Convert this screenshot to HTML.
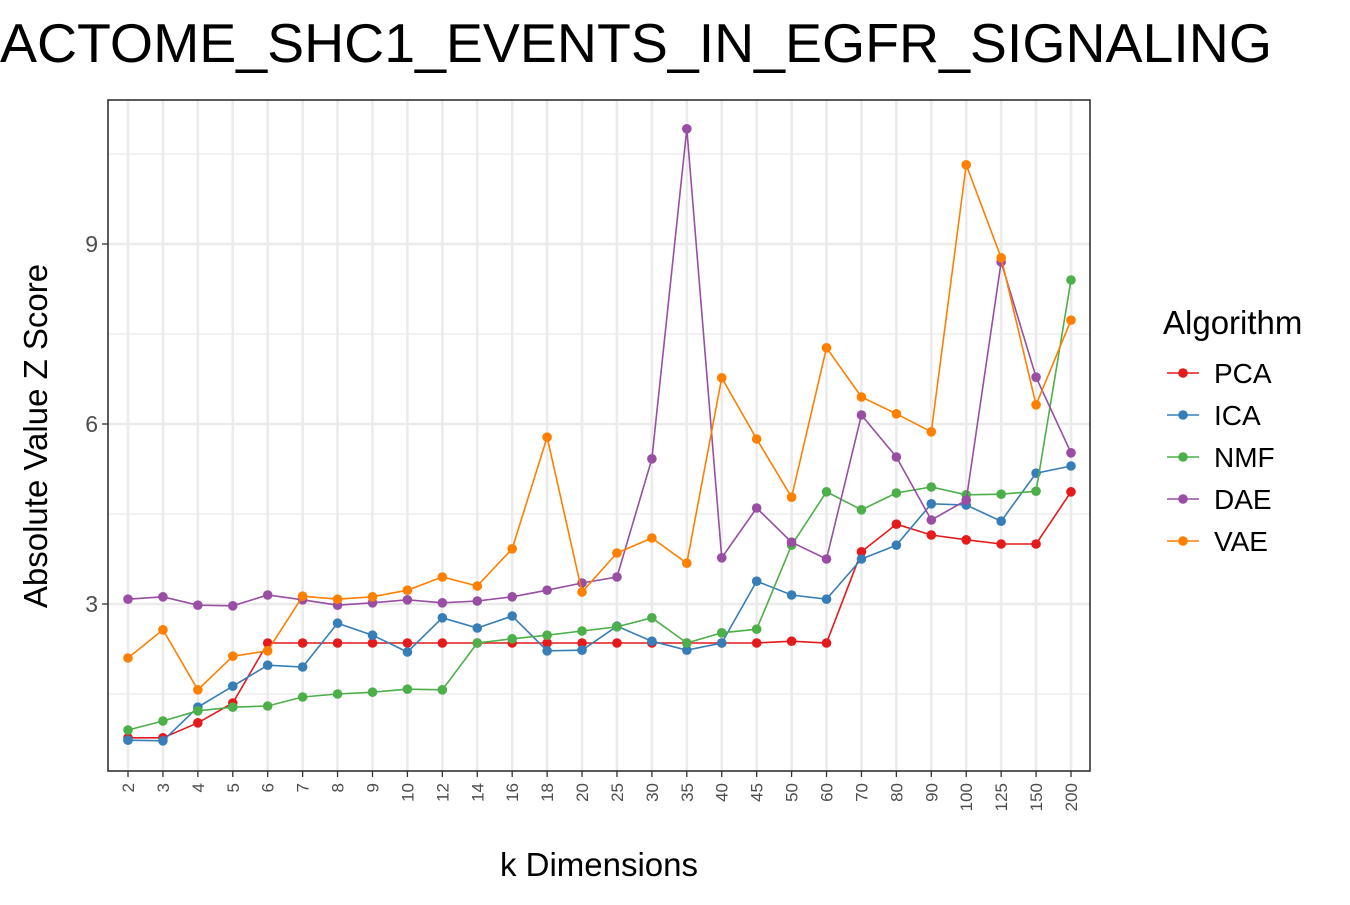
<!DOCTYPE html>
<html><head><meta charset="utf-8"><style>
body{margin:0;background:#fff;font-family:"Liberation Sans",Arial,sans-serif;}
</style></head><body>
<svg width="1350" height="900" xmlns="http://www.w3.org/2000/svg" font-family="Liberation Sans, Arial, sans-serif">
<text x="0" y="62" font-size="55" fill="#000" textLength="1272" lengthAdjust="spacingAndGlyphs">ACTOME_SHC1_EVENTS_IN_EGFR_SIGNALING</text>
<g id="grid"></g>
<g id="marks"></g>
<rect x="108" y="100" width="982" height="671" fill="none" stroke="#333" stroke-width="1.6"/>
<g id="axes"></g>
<text transform="translate(47,436) rotate(-90)" text-anchor="middle" font-size="33" fill="#000">Absolute Value Z Score</text>
<text x="599" y="876" text-anchor="middle" font-size="33" fill="#000">k Dimensions</text>
<g id="legend">
<text x="1163" y="334" font-size="33" fill="#000">Algorithm</text>
</g>
</svg>
<script>
const categories=["2","3","4","5","6","7","8","9","10","12","14","16","18","20","25","30","35","40","45","50","60","70","80","90","100","125","150","200"];
const yTicks=[3,6,9];
const seriesNames=["PCA","ICA","NMF","DAE","VAE"];
const seriesColors=["#e41a1c","#377eb8","#4daf4a","#984ea3","#ff7f00"];
const pca=[0.77,0.77,1.02,1.35,2.35,2.35,2.35,2.35,2.35,2.35,2.35,2.35,2.35,2.35,2.35,2.35,2.35,2.35,2.35,2.38,2.35,3.87,4.33,4.15,4.07,4.0,4.0,4.87];
const ica=[0.73,0.72,1.28,1.63,1.98,1.95,2.68,2.48,2.2,2.77,2.6,2.8,2.22,2.23,2.63,2.38,2.23,2.35,3.38,3.15,3.08,3.75,3.98,4.67,4.65,4.38,5.18,5.3];
const nmf=[0.9,1.05,1.22,1.28,1.3,1.45,1.5,1.53,1.58,1.57,2.35,2.42,2.48,2.55,2.62,2.77,2.35,2.52,2.58,3.98,4.87,4.57,4.85,4.95,4.82,4.83,4.88,8.4];
const dae=[3.08,3.12,2.98,2.97,3.15,3.07,2.98,3.02,3.07,3.02,3.05,3.12,3.23,3.35,3.45,5.42,10.92,3.77,4.6,4.03,3.75,6.15,5.45,4.4,4.73,8.7,6.78,5.52];
const vae=[2.1,2.57,1.57,2.13,2.22,3.13,3.08,3.12,3.23,3.45,3.3,3.92,5.78,3.2,3.85,4.1,3.68,6.77,5.75,4.78,7.27,6.45,6.17,5.87,10.32,8.77,6.32,7.73];
const seriesData=[pca,ica,nmf,dae,vae];
const NS="http://www.w3.org/2000/svg";
const X0=108,X1=1090,Y0=100,Y1=771;
const xs=i=>128+i*(1071-128)/(categories.length-1);
const ys=v=>784-v*60;
function mk(tag,attrs,parent){const e=document.createElementNS(NS,tag);for(const k in attrs)e.setAttribute(k,attrs[k]);parent.appendChild(e);return e;}
const grid=document.getElementById('grid'),marks=document.getElementById('marks'),axes=document.getElementById('axes'),legend=document.getElementById('legend');
for(let v=1.5;v<11.5;v+=3){const y=ys(v);if(y<Y0||y>Y1)continue;const l=mk('line',{x1:X0,x2:X1,y1:y,y2:y,stroke:'#ebebeb','stroke-width':1.3},grid);

}
yTicks.forEach(v=>{const y=ys(v);const l=mk('line',{x1:X0,x2:X1,y1:y,y2:y,stroke:'#ebebeb','stroke-width':2.6},grid);


const t=mk('line',{x1:X0-6,x2:X0,y1:y,y2:y,stroke:'#333','stroke-width':1.3},axes);


const tx=mk('text',{x:X0-10,y:y+8,'text-anchor':'end','font-size':23,fill:'#4d4d4d'},axes);tx.textContent=v;

});
categories.forEach((c,i)=>{const x=xs(i);const l=mk('line',{x1:x,x2:x,y1:Y0,y2:Y1,stroke:'#ebebeb','stroke-width':2.6},grid);


const t=mk('line',{x1:x,x2:x,y1:Y1,y2:Y1+6,stroke:'#333','stroke-width':1.3},axes);


const tx=mk('text',{transform:`translate(${x+6},${Y1+12}) rotate(-90)`,'text-anchor':'end','font-size':17,fill:'#4d4d4d'},axes);tx.textContent=c;

});
seriesData.forEach((d,s)=>{const g=mk('g',{},marks);


const p=mk('polyline',{points:d.map((v,i)=>xs(i)+','+ys(v)).join(' '),fill:'none',stroke:seriesColors[s],'stroke-width':1.6},g);


d.forEach((v,i)=>{const c=mk('circle',{cx:xs(i),cy:ys(v),r:4.8,fill:seriesColors[s]},g);

});});
seriesNames.forEach((n,s)=>{const y=373+s*42;const g=mk('g',{},legend);


mk('line',{x1:1167,x2:1199,y1:y,y2:y,stroke:seriesColors[s],'stroke-width':1.6},g);
mk('circle',{cx:1183,cy:y,r:4.8,fill:seriesColors[s]},g);
const t=mk('text',{x:1214,y:y+10,'font-size':28,fill:'#000'},g);t.textContent=n;});
</script>
</body></html>
